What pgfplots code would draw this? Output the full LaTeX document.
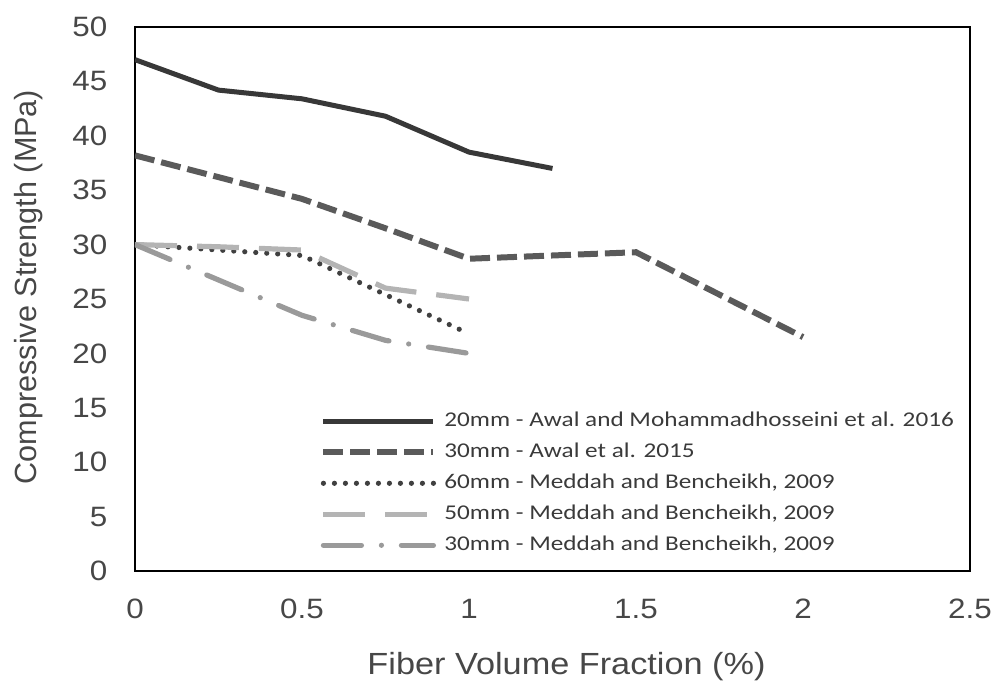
\documentclass[border=0pt]{standalone}
\usepackage{fontspec}
\setmainfont{Liberation Sans}[FakeStretch=1.12]
\newfontfamily\plainfont{Liberation Sans}
\newfontfamily\legfont{Carlito}[FakeStretch=1.2]
\usepackage{pgfplots}
\pgfplotsset{compat=1.18}
\definecolor{cA}{HTML}{383838}
\definecolor{cB}{HTML}{5A5A5A}
\definecolor{cC}{HTML}{404040}
\definecolor{cD}{HTML}{B4B4B4}
\definecolor{cE}{HTML}{9A9A9A}
\definecolor{tickgray}{HTML}{474747}
\definecolor{labgray}{HTML}{474747}
\definecolor{leggray}{HTML}{3A3A3A}
\begin{document}
\begin{tikzpicture}
\begin{axis}[
  name=ax, scale only axis, width=417.5pt, height=272pt,
  xmin=0, xmax=2.5, ymin=0, ymax=50,
  xtick={0,0.5,1,1.5,2,2.5}, ytick={0,5,10,15,20,25,30,35,40,45,50},
  major tick length=0pt,
  axis line style={black, line width=1.4pt},
  /pgf/number format/assume math mode=true,
  tick label style={font=\fontsize{14}{16}\selectfont, text=tickgray},
  xticklabel style={yshift=-10.6pt},
  yticklabel style={xshift=-10.3pt},
  xlabel={Fiber Volume Fraction (\%)},
  ylabel={Compressive Strength (MPa)},
  xlabel style={font=\fontsize{15.3}{18}\selectfont, text=labgray, at={(axis description cs:0.5168,-0.191)}, anchor=base},
  ylabel style={font=\plainfont\fontsize{15.3}{18}\selectfont, text=labgray, at={(axis description cs:-0.118,0.522)}, anchor=base},
  legend style={at={(axis cs:0.554,14.9)}, anchor=north west, draw=none, fill=none, inner sep=0pt, row sep=3.5pt, column sep=3pt,
    font=\legfont\fontsize{10.5}{12}\selectfont, text=leggray,
    nodes={inner sep=1pt, text height=7.5pt, text depth=2.5pt}, cells={anchor=west}},
  legend image code/.code={\draw[#1] (0pt,0pt) -- (55pt,0pt);},
]
\addplot[cA, line width=2.5pt, line join=round] coordinates {(0,47.0) (0.25,44.2) (0.5,43.4) (0.75,41.8) (1,38.5) (1.25,37.0)};
\addlegendentry{20mm - Awal and Mohammadhosseini et al. 2016}
\addplot[cB, line width=3pt, dash pattern=on 10pt off 3.5pt] coordinates {(0,38.2) (0.25,36.2) (0.5,34.2) (0.75,31.5) (1,28.7) (1.5,29.3) (2,21.5)};
\addlegendentry{30mm - Awal et al. 2015}
\addplot[cC, line width=2.6pt, line cap=round, dash pattern=on 0pt off 5.5pt] coordinates {(0,30) (0.25,29.5) (0.5,29.0) (1,21.8)};
\addlegendentry{60mm - Meddah and Bencheikh, 2009}
\addplot[cD, line width=2.6pt, dash pattern=on 21pt off 10pt] coordinates {(0,30) (0.25,29.8) (0.5,29.5) (0.75,26.0) (1,25.0)};
\addlegendentry{50mm - Meddah and Bencheikh, 2009}
\addplot[cE, line width=2.6pt, line cap=round, dash pattern=on 19pt off 10pt on 0pt off 10pt] coordinates {(0,30) (0.5,23.5) (0.75,21.2) (1,20.0)};
\addlegendentry{30mm - Meddah and Bencheikh, 2009}
\end{axis}
\pgfresetboundingbox
\path (ax.south west) ++(-67.5pt,-54.5pt) rectangle ++(497.5pt,340pt);
\end{tikzpicture}
\end{document}
